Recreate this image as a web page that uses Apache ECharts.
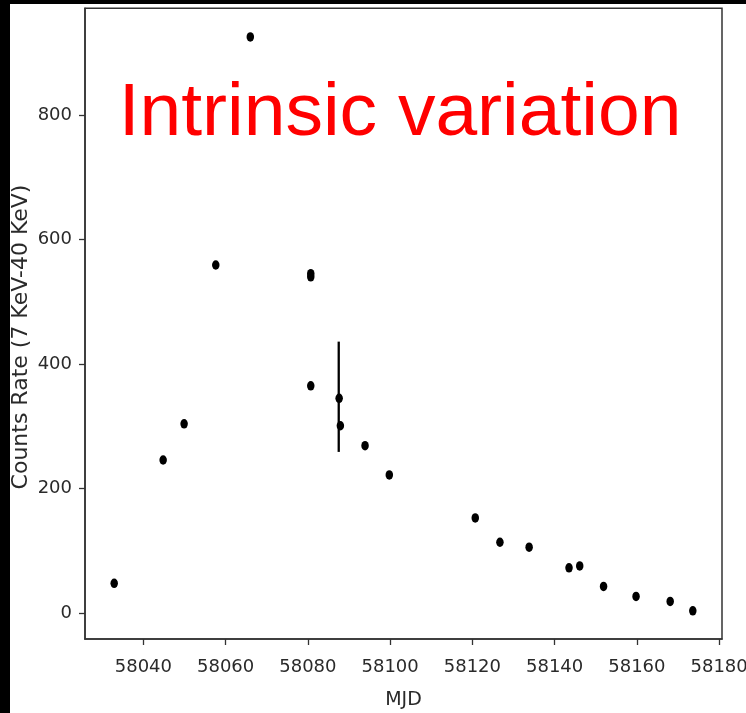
<!DOCTYPE html>
<html>
<head>
<meta charset="utf-8">
<script src="https://cdn.jsdelivr.net/npm/echarts@6/dist/echarts.min.js"></script>
<style>
  html, body { margin: 0; padding: 0; background: #000; width: 746px; height: 713px; overflow: hidden; }
  #chart { position: absolute; left: 10px; top: 4px; width: 736px; height: 709px; background: #fff; }
</style>
</head>
<body>
<div id="chart"></div>
<script>
const mjd  = [58032.9, 58044.8, 58049.9, 58057.6, 58066.0, 58080.7, 58080.7, 58080.7, 58087.6, 58087.9,
              58093.9, 58099.8, 58120.7, 58126.7, 58133.8, 58143.5, 58146.1, 58151.9, 58159.8, 58168.1, 58173.6];
const rate = [48, 246, 304, 559, 925, 545, 540, 365, 345, 301,
              269, 222, 153, 114, 106, 73, 76, 43, 27, 19, 4];

// Error bar
const errMjd  = [58087.5];
const errLow  = [259];
const errHigh = [436];

// Tick labels
const xTicks = [58040, 58060, 58080, 58100, 58120, 58140, 58160, 58180];
const yTicks = [0, 200, 400, 600, 800];

const titleText = 'Intrinsic variation';
const xName = 'MJD';
const yName = 'Counts Rate (7 KeV-40 KeV)';

const chart = echarts.init(document.getElementById('chart'), null, { renderer: 'canvas' });

const tickFont = { fontFamily: 'DejaVu Sans', fontSize: 18, color: '#2a2a2a' };

chart.setOption({
  backgroundColor: '#fff',
  animation: false,
  grid: {
    left: 75, top: 4.3, right: 24, bottom: 74,
    outerBoundsMode: 'none', containLabel: false,
    show: true, borderColor: '#333', borderWidth: 1.5, backgroundColor: 'transparent'
  },
  xAxis: {
    type: 'value',
    min: 58025.8, max: 58180.7,
    name: xName, nameLocation: 'middle', nameGap: 52,
    nameTextStyle: { fontFamily: 'DejaVu Sans', fontSize: 19, color: '#2a2a2a' },
    axisLine: { show: true, onZero: false, lineStyle: { color: '#333', width: 1.5 } },
    axisTick: { show: true, inside: false, length: 6, customValues: xTicks, lineStyle: { color: '#333', width: 1.3 } },
    axisLabel: Object.assign({ margin: 19, customValues: xTicks, formatter: v => String(v) }, tickFont),
    splitLine: { show: false }
  },
  yAxis: {
    type: 'value',
    min: -41.3, max: 971,
    axisLine: { show: true, onZero: false, lineStyle: { color: '#333', width: 1.5 } },
    axisTick: { show: true, inside: false, length: 6, customValues: yTicks, lineStyle: { color: '#333', width: 1.3 } },
    axisLabel: Object.assign({ margin: 13, customValues: yTicks, formatter: v => String(v) }, tickFont),
    splitLine: { show: false }
  },
  graphic: [
    {
      type: 'text',
      x: 390, y: 110,
      style: {
        text: titleText, fill: '#ff0000',
        font: '75px "Liberation Sans", Arial, sans-serif',
        align: 'center', verticalAlign: 'middle'
      },
      z: 10
    },
    {
      type: 'text',
      x: 11, y: 333,
      rotation: Math.PI / 2,
      style: {
        text: yName, fill: '#2a2a2a',
        font: '22px "DejaVu Sans", sans-serif',
        align: 'center', verticalAlign: 'middle'
      }
    }
  ],
  series: [
    {
      type: 'scatter',
      data: mjd.map((x, i) => [x, rate[i]]),
      symbol: 'circle',
      symbolSize: [7.5, 9.5],
      itemStyle: { color: '#000', opacity: 1 },
      z: 3
    },
    {
      type: 'custom',
      data: errMjd.map((x, i) => [x, errLow[i], errHigh[i]]),
      encode: { x: 0, y: [1, 2] },
      renderItem: function (params, api) {
        const p1 = api.coord([api.value(0), api.value(1)]);
        const p2 = api.coord([api.value(0), api.value(2)]);
        return {
          type: 'line',
          shape: { x1: p1[0], y1: p1[1], x2: p2[0], y2: p2[1] },
          style: { stroke: '#000', lineWidth: 2.3 }
        };
      },
      z: 2
    }
  ]
});
</script>
</body>
</html>
